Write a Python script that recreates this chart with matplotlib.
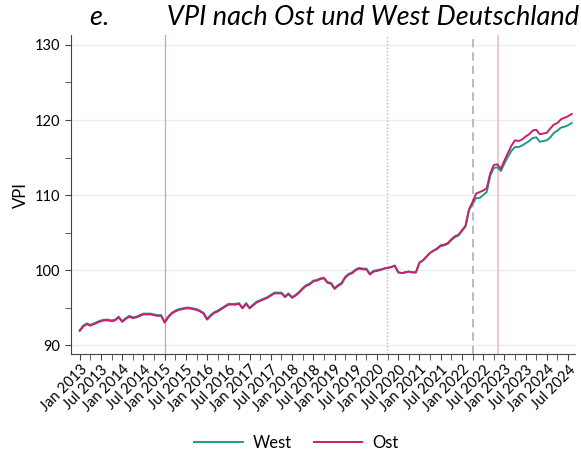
import matplotlib.pyplot as plt
import numpy as np

# monthly VPI, Jan 2013 - Aug 2024
west = [
    92.0, 92.6, 92.9, 92.7, 92.9, 93.1, 93.3, 93.4, 93.4, 93.3, 93.4, 93.8,   # 2013
    93.2, 93.6, 93.9, 93.7, 93.8, 94.0, 94.2, 94.2, 94.2, 94.1, 94.0, 94.0,   # 2014
    93.1, 93.8, 94.3, 94.6, 94.8, 94.9, 95.0, 95.0, 94.9, 94.8, 94.6, 94.3,   # 2015
    93.5, 94.0, 94.4, 94.6, 94.9, 95.2, 95.5, 95.5, 95.5, 95.6, 95.0, 95.6,   # 2016
    95.0, 95.4, 95.8, 96.0, 96.2, 96.4, 96.7, 97.0, 97.0, 97.0, 96.5, 96.9,   # 2017
    96.4, 96.7, 97.1, 97.6, 98.0, 98.2, 98.6, 98.7, 98.9, 99.0, 98.4, 98.3,   # 2018
    97.6, 98.0, 98.3, 99.1, 99.5, 99.7, 100.1, 100.3, 100.2, 100.2, 99.5, 99.9,  # 2019
    100.0, 100.1, 100.2, 100.3, 100.4, 100.6, 99.7, 99.6, 99.7, 99.8, 99.7, 99.7,  # 2020
    101.0, 101.3, 101.8, 102.3, 102.6, 102.8, 103.2, 103.3, 103.5, 104.0, 104.4, 104.6,  # 2021
    105.2, 105.8, 108.0, 108.8, 109.6, 109.6, 110.0, 110.4, 112.6, 113.6, 113.7, 113.2,  # 2022
    114.2, 115.1, 115.9, 116.4, 116.4, 116.6, 116.9, 117.2, 117.6, 117.7, 117.1, 117.2,  # 2023
    117.3, 117.7, 118.3, 118.6, 119.0, 119.1, 119.3, 119.6,                          # 2024
]
ost = [
    91.9, 92.5, 92.8, 92.6, 92.8, 93.0, 93.2, 93.3, 93.3, 93.2, 93.3, 93.7,
    93.1, 93.5, 93.8, 93.6, 93.7, 93.9, 94.1, 94.1, 94.1, 94.0, 93.9, 93.9,
    93.0, 93.7, 94.2, 94.5, 94.7, 94.8, 94.9, 94.9, 94.8, 94.7, 94.5, 94.2,
    93.4, 93.9, 94.3, 94.5, 94.8, 95.1, 95.4, 95.4, 95.4, 95.5, 94.9, 95.5,
    94.9, 95.3, 95.7, 95.9, 96.1, 96.3, 96.6, 96.9, 96.9, 96.9, 96.4, 96.8,
    96.3, 96.6, 97.0, 97.5, 97.9, 98.1, 98.5, 98.6, 98.8, 98.9, 98.3, 98.2,
    97.5, 97.9, 98.2, 99.0, 99.4, 99.6, 100.0, 100.2, 100.1, 100.1, 99.4, 99.8,
    99.9, 100.0, 100.2, 100.3, 100.4, 100.6, 99.7, 99.6, 99.7, 99.8, 99.7, 99.7,
    101.0, 101.3, 101.8, 102.3, 102.6, 102.9, 103.3, 103.4, 103.6, 104.1, 104.5, 104.7,
    105.3, 105.9, 108.1, 109.1, 110.2, 110.4, 110.6, 110.9, 112.9, 114.0, 114.1, 113.5,
    114.6, 115.6, 116.6, 117.3, 117.2, 117.4, 117.8, 118.1, 118.6, 118.7, 118.1, 118.2,
    118.3, 118.9, 119.4, 119.6, 120.1, 120.3, 120.5, 120.8,
]
tick_labels = []
for yr in range(2013, 2025):
    tick_labels += ["Jan %d" % yr, "Jul %d" % yr]

# event lines (months since Jan 2013)
ev_mindestlohn = [24, 118.3]
ev_corona = 86.9
ev_krieg = 111.1

months = np.arange(len(west))

plt.rcParams['font.family'] = ['Lato', 'DejaVu Sans']
fig = plt.figure(figsize=(5.81, 4.57), dpi=100)
ax = fig.add_axes([0.122, 0.225, 0.868, 0.698])

ax.axvline(ev_mindestlohn[0], color='#cfa0ad', lw=0.9, zorder=1)
ax.axvline(ev_mindestlohn[1], color='#f2bccb', lw=1.2, zorder=1)
ax.axvline(ev_corona, color='#b8b8b8', lw=1.0, ls=(0, (1, 1.5)), zorder=1)
ax.axvline(ev_krieg, color='#b0b0b0', lw=1.2, ls=(0, (5, 3)), zorder=1)

ax.plot(months, west, color='#1f9a88', lw=1.4, label='West', zorder=3)
ax.plot(months, ost, color='#c8206e', lw=1.4, label='Ost', zorder=3)

ax.set_xlim(-2.5, 140)
ax.set_ylim(88.8, 131.3)
ax.set_yticks([90, 100, 110, 120, 130])
ax.set_yticks([95, 105, 115, 125], minor=True)
ax.set_xticks(np.arange(0, 140, 6))
ax.set_xticklabels(tick_labels, rotation=45, ha='right', rotation_mode='anchor')
ax.set_xticks(np.arange(3, 140, 6), minor=True)
ax.tick_params(axis='both', which='both', length=4, color='#444444', labelsize=10.5)
ax.tick_params(axis='x', pad=2)
ax.grid(axis='y', color='#e6efef', lw=1)
ax.set_axisbelow(True)
for s in ['top', 'right']:
    ax.spines[s].set_visible(False)
for s in ['left', 'bottom']:
    ax.spines[s].set_color('#444444')

ax.set_ylabel('VPI', fontsize=12)
fig.text(0.997, 0.945, 'e.         VPI nach Ost und West Deutschland', ha='right',
         fontsize=19.5, style='italic')
fig.legend(loc='center', bbox_to_anchor=(0.51, 0.03), ncol=2, frameon=False,
           fontsize=12, handlelength=2.9, handletextpad=0.6, columnspacing=1.3)

fig.savefig('out.png', dpi=100)
